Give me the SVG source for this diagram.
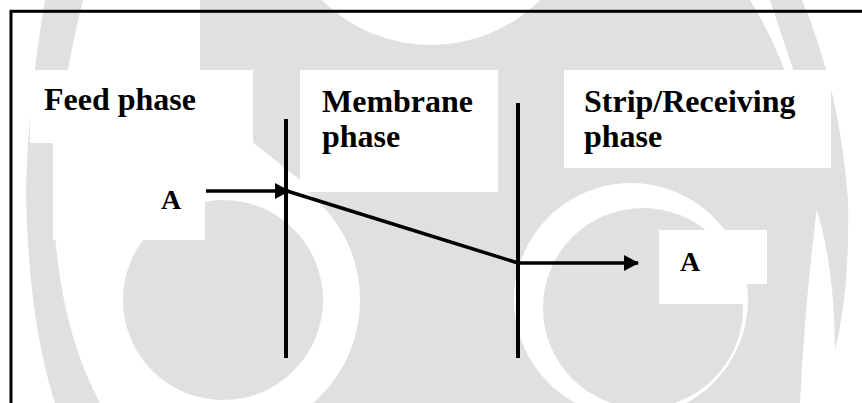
<svg xmlns="http://www.w3.org/2000/svg" width="862" height="403" viewBox="0 0 862 403">
  <style>
    .wm { fill: #e0e0e0; }
    .gap { fill: #ffffff; }
    .box { fill: #ffffff; }
    .label { font-family: "Liberation Serif", "Times New Roman", serif; font-weight: bold; font-size: 32px; fill: #000; }
    .species { font-family: "Liberation Serif", "Times New Roman", serif; font-weight: bold; font-size: 28px; fill: #000; }
    .line { stroke: #000; stroke-width: 3.5; fill: none; }
    .wall { stroke: #000; stroke-width: 4; fill: none; }
  </style>
  <defs>
    <marker id="arrow" markerUnits="userSpaceOnUse" markerWidth="15" markerHeight="16" refX="14" refY="8" orient="auto">
      <path d="M0,0 L15,8 L0,16 Z" fill="#000"/>
    </marker>
  </defs>

  <rect width="862" height="403" fill="#ffffff"/>

  <!-- background logo, light grey -->
  <g id="watermark">
    <!-- left crescent -->
    <path class="wm" d="M45,0 Q28,100 26,190 Q28,320 55,403 L100,403 Q55,320 53,190 Q58,100 83,0 Z"/>
    <!-- right crescent -->
    <path class="wm" d="M770,0 L802,0 Q840,90 848,200 Q850,290 835,350 Q834,260 815,205 Q812,120 790,60 Z"/>
    <!-- central body -->
    <path class="wm" d="M200,0 L750,0 Q800,80 818,200 Q805,300 800,403 L300,403 L300,180 L250,140 L200,70 Z"/>
    <!-- openings -->
    <circle class="gap" cx="431" cy="-110" r="155"/>
    <circle class="gap" cx="223" cy="300" r="137"/>
    <circle class="gap" cx="631" cy="300" r="117"/>
    <!-- inner discs -->
    <circle class="wm" cx="223" cy="300" r="100"/>
    <circle class="wm" cx="643" cy="308" r="100"/>
  </g>

  <!-- outer frame -->
  <rect x="11" y="11.3" width="900" height="500" fill="none" stroke="#000" stroke-width="3"/>

  <g id="feed-phase">
    <rect class="box" x="30" y="70" width="223" height="73"/>
    <text class="label" x="44" y="110">Feed phase</text>
  </g>

  <g id="membrane-phase">
    <rect class="box" x="300" y="70" width="198" height="122"/>
    <text class="label" x="322" y="112">Membrane</text>
    <text class="label" x="322" y="146.5">phase</text>
  </g>

  <g id="strip-phase">
    <rect class="box" x="564" y="70" width="267" height="98"/>
    <text class="label" x="584" y="112">Strip/Receiving</text>
    <text class="label" x="584" y="146.5">phase</text>
  </g>

  <g id="solute-feed">
    <rect class="box" x="53" y="143" width="152" height="97"/>
    <text class="species" x="161" y="209">A</text>
  </g>

  <g id="solute-strip">
    <rect class="box" x="659" y="230" width="108" height="54"/>
    <rect class="box" x="659" y="230" width="87" height="74"/>
    <text class="species" x="680" y="271">A</text>
  </g>

  <g id="interfaces">
    <line class="wall" x1="286" y1="119" x2="286" y2="358"/>
    <line class="wall" x1="518" y1="103" x2="518" y2="358"/>
  </g>

  <g id="connectors">
    <line class="line" x1="206" y1="191" x2="289" y2="191" marker-end="url(#arrow)"/>
    <line class="line" x1="287" y1="191" x2="518" y2="263"/>
    <line class="line" x1="518" y1="263" x2="638" y2="263" marker-end="url(#arrow)"/>
  </g>
</svg>
